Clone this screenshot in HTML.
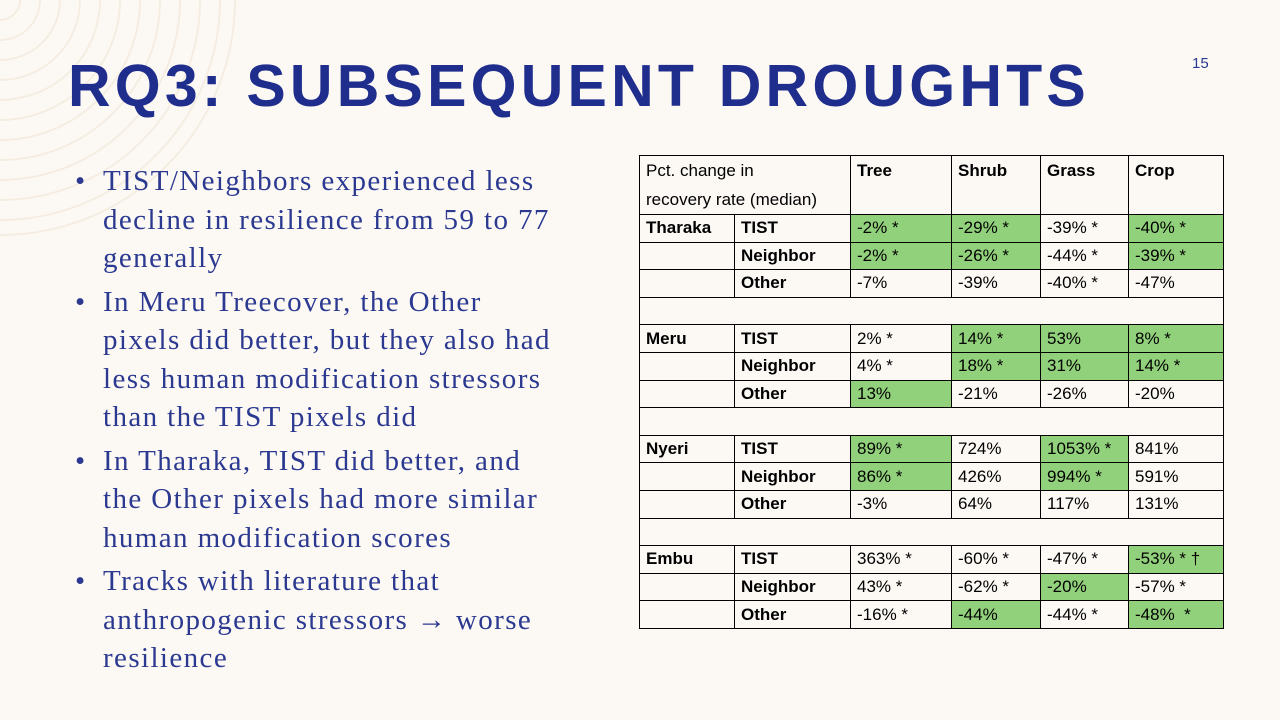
<!DOCTYPE html>
<html><head><meta charset="utf-8"><style>
body{margin:0;width:1280px;height:720px;background:#fcf9f5;position:relative;overflow:hidden;font-family:"Liberation Sans",sans-serif}
.title{position:absolute;left:68px;top:52px;font:bold 59px "Liberation Sans",sans-serif;color:#1f2d8c;letter-spacing:4.2px;white-space:nowrap}
.pg{position:absolute;left:1192px;top:55px;font-size:15px;color:#2b3990}
ul{position:absolute;left:75px;top:162px;margin:0;padding:0;list-style:none;font-family:"Liberation Serif",serif;font-size:29px;color:#2b3990;line-height:38.5px;letter-spacing:1.4px}
li{position:relative;padding-left:28px;margin-bottom:5px;white-space:nowrap}
li:before{content:"•";position:absolute;left:0;top:0}
table{position:absolute;left:639px;top:155px;border-collapse:collapse;table-layout:fixed;font-size:17px;color:#000}
td{border:1px solid #000;padding:0 0 0 6px;height:26.6px;line-height:20px;vertical-align:middle;white-space:nowrap;overflow:hidden}
td.g{background:#92d17b}
td.b{font-weight:bold}
tr.h td{height:55px;vertical-align:top;line-height:29px}
</style></head><body>
<svg width="240" height="240" style="position:absolute;left:0;top:0">
<g fill="none" stroke="#f5ede2" stroke-width="2">
<circle cx="0" cy="0" r="20"/><circle cx="0" cy="0" r="40"/><circle cx="0" cy="0" r="60"/><circle cx="0" cy="0" r="80"/><circle cx="0" cy="0" r="100"/><circle cx="0" cy="0" r="120"/><circle cx="0" cy="0" r="140"/><circle cx="0" cy="0" r="160"/><circle cx="0" cy="0" r="180"/><circle cx="0" cy="0" r="200"/><circle cx="0" cy="0" r="220"/><circle cx="0" cy="0" r="235"/>
</g></svg>
<div class="title">RQ3: SUBSEQUENT DROUGHTS</div>
<div class="pg">15</div>
<ul>
<li>TIST/Neighbors experienced less<br>decline in resilience from 59 to 77<br>generally</li>
<li>In Meru Treecover, the Other<br>pixels did better, but they also had<br>less human modification stressors<br>than the TIST pixels did</li>
<li>In Tharaka, TIST did better, and<br>the Other pixels had more similar<br>human modification scores</li>
<li>Tracks with literature that<br>anthropogenic stressors <b>→</b> worse<br>resilience</li>
</ul>
<table>
<colgroup><col style="width:95px"><col style="width:116px"><col style="width:101px"><col style="width:89px"><col style="width:88px"><col style="width:95px"></colgroup>
<tr class="h"><td colspan="2">Pct. change in<br>recovery rate (median)</td><td class="b">Tree</td><td class="b">Shrub</td><td class="b">Grass</td><td class="b">Crop</td></tr>
<tr><td class="b">Tharaka</td><td class="b">TIST</td><td class="g">-2% *</td><td class="g">-29% *</td><td>-39% *</td><td class="g">-40% *</td></tr>
<tr><td></td><td class="b">Neighbor</td><td class="g">-2% *</td><td class="g">-26% *</td><td>-44% *</td><td class="g">-39% *</td></tr>
<tr><td></td><td class="b">Other</td><td>-7%</td><td>-39%</td><td>-40% *</td><td>-47%</td></tr>
<tr><td colspan="6"></td></tr>
<tr><td class="b">Meru</td><td class="b">TIST</td><td>2% *</td><td class="g">14% *</td><td class="g">53%</td><td class="g">8% *</td></tr>
<tr><td></td><td class="b">Neighbor</td><td>4% *</td><td class="g">18% *</td><td class="g">31%</td><td class="g">14% *</td></tr>
<tr><td></td><td class="b">Other</td><td class="g">13%</td><td>-21%</td><td>-26%</td><td>-20%</td></tr>
<tr><td colspan="6"></td></tr>
<tr><td class="b">Nyeri</td><td class="b">TIST</td><td class="g">89% *</td><td>724%</td><td class="g">1053% *</td><td>841%</td></tr>
<tr><td></td><td class="b">Neighbor</td><td class="g">86% *</td><td>426%</td><td class="g">994% *</td><td>591%</td></tr>
<tr><td></td><td class="b">Other</td><td>-3%</td><td>64%</td><td>117%</td><td>131%</td></tr>
<tr><td colspan="6"></td></tr>
<tr><td class="b">Embu</td><td class="b">TIST</td><td>363% *</td><td>-60% *</td><td>-47% *</td><td class="g">-53% * †</td></tr>
<tr><td></td><td class="b">Neighbor</td><td>43% *</td><td>-62% *</td><td class="g">-20%</td><td>-57% *</td></tr>
<tr><td></td><td class="b">Other</td><td>-16% *</td><td class="g">-44%</td><td>-44% *</td><td class="g">-48% &nbsp;*</td></tr>
</table>
</body></html>
